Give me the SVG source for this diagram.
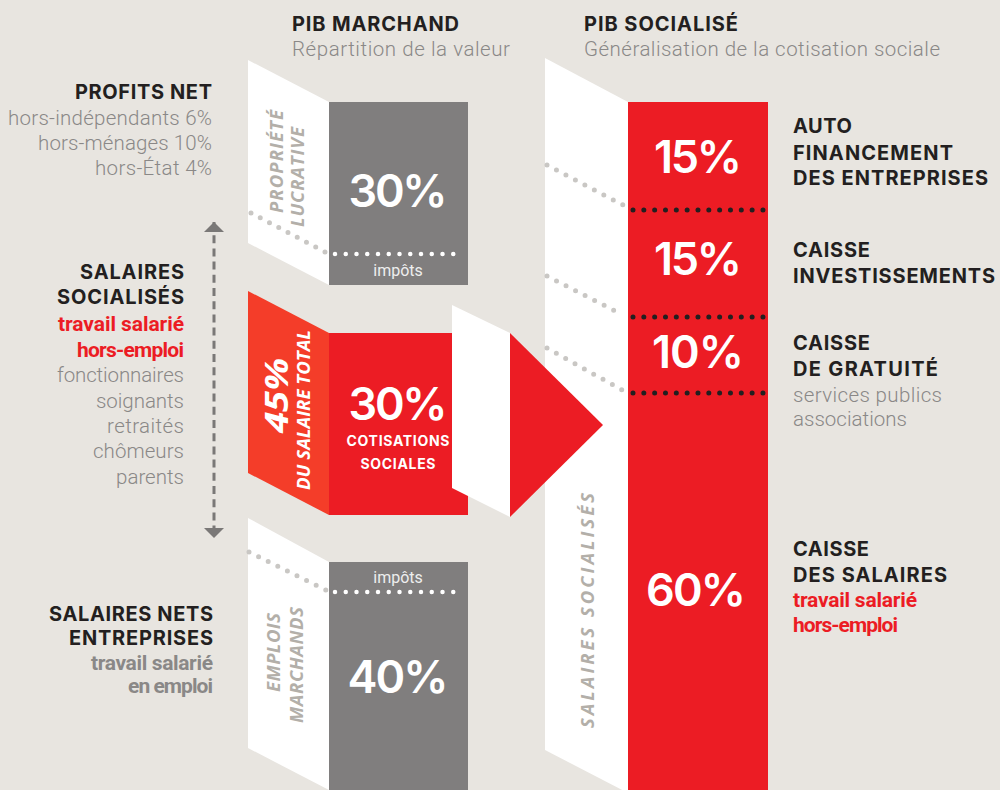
<svg xmlns="http://www.w3.org/2000/svg" width="1000" height="790" viewBox="0 0 1000 790">
<style>
.bg{fill:#e8e5e0}
.face{fill:#ffffff}
.gray{fill:#807e7e}
.red{fill:#ec1c24}
.orange{fill:#f43d29}
.h{font-family:Inter,"Liberation Sans",sans-serif;font-weight:700;font-size:20px;fill:#231f20}
.sub{font-family:Roboto,"Liberation Sans",sans-serif;font-weight:300;font-size:20.5px;fill:#8a8887}
.redc{font-family:Roboto,"Liberation Sans",sans-serif;font-weight:700;font-size:21px;fill:#ec1c24}
.grayc{font-family:Roboto,"Liberation Sans",sans-serif;font-weight:700;font-size:21px;fill:#8a8887}
.pct{font-family:Inter,"Liberation Sans",sans-serif;font-weight:600;font-size:45px;fill:#ffffff;text-anchor:middle}
.imp{font-family:Roboto,"Liberation Sans",sans-serif;font-weight:400;font-size:16px;fill:#eeeeee;text-anchor:middle}
.small{font-family:Inter,"Liberation Sans",sans-serif;font-weight:700;font-size:14px;fill:#ffffff;text-anchor:middle}
.rot{font-family:"Open Sans","Liberation Sans",sans-serif;font-style:italic;font-weight:700;font-size:18.5px;fill:#b3afa9}
.rotw{font-family:"Open Sans","Liberation Sans",sans-serif;font-style:italic;font-weight:700;fill:#ffffff}
.end{text-anchor:end}
.dg{stroke:#c9c7c4;stroke-width:5;stroke-linecap:round;fill:none}
.dw{stroke:#ffffff;stroke-width:4.5;stroke-linecap:round;fill:none;stroke-dasharray:0 10.75}
.dk{stroke:#231f20;stroke-width:5;stroke-linecap:round;fill:none;stroke-dasharray:0 10.83}
</style>
<defs>
<marker id="ah" viewBox="0 0 10 20" refX="10" refY="10" markerWidth="10" markerHeight="20" markerUnits="userSpaceOnUse" orient="auto-start-reverse">
<path d="M0,0 L10,10 L0,20 Z" fill="#7a7877"/>
</marker>
</defs>
<rect class="bg" x="0" y="0" width="1000" height="790"/>

<g id="header-marchand">
<text class="h" x="292" y="31" textLength="167" lengthAdjust="spacing">PIB MARCHAND</text>
<text class="sub" x="292" y="56" textLength="218" lengthAdjust="spacing">Répartition de la valeur</text>
</g>
<g id="header-socialise">
<text class="h" x="584" y="31" textLength="154" lengthAdjust="spacing">PIB SOCIALISÉ</text>
<text class="sub" x="584" y="56" textLength="356" lengthAdjust="spacing">Généralisation de la cotisation sociale</text>
</g>

<g id="label-profits">
<text class="h end" x="212" y="99" textLength="137" lengthAdjust="spacing">PROFITS NET</text>
<text class="sub end" x="212" y="125" textLength="204" lengthAdjust="spacing">hors-indépendants 6%</text>
<text class="sub end" x="212" y="150" textLength="174" lengthAdjust="spacing">hors-ménages 10%</text>
<text class="sub end" x="212" y="175" textLength="117" lengthAdjust="spacing">hors-État 4%</text>
</g>

<g id="label-salaires-socialises">
<text class="h end" x="184" y="279" textLength="104" lengthAdjust="spacing">SALAIRES</text>
<text class="h end" x="184" y="304" textLength="127" lengthAdjust="spacing">SOCIALISÉS</text>
<text class="redc end" x="184" y="331" textLength="126" lengthAdjust="spacing">travail salarié</text>
<text class="redc end" x="184" y="357" textLength="107" lengthAdjust="spacing">hors-emploi</text>
<text class="sub end" x="184" y="382" textLength="127" lengthAdjust="spacing">fonctionnaires</text>
<text class="sub end" x="184" y="408" textLength="88" lengthAdjust="spacing">soignants</text>
<text class="sub end" x="184" y="433" textLength="77" lengthAdjust="spacing">retraités</text>
<text class="sub end" x="184" y="458" textLength="91" lengthAdjust="spacing">chômeurs</text>
<text class="sub end" x="184" y="484" textLength="68" lengthAdjust="spacing">parents</text>
</g>

<g id="label-salaires-nets">
<text class="h end" x="213" y="621" textLength="164" lengthAdjust="spacing">SALAIRES NETS</text>
<text class="h end" x="213" y="645" textLength="144" lengthAdjust="spacing">ENTREPRISES</text>
<text class="grayc end" x="213" y="670" textLength="122" lengthAdjust="spacing">travail salarié</text>
<text class="grayc end" x="213" y="693" textLength="85" lengthAdjust="spacing">en emploi</text>
</g>

<g id="panel-profits">
<polygon class="face" points="248,60 329,102 329,285 248,243"/>
<rect class="gray" x="329" y="102" width="139" height="183"/>
<text class="pct" x="398" y="207" textLength="99" lengthAdjust="spacing">30%</text>
<text class="imp" x="398" y="276">impôts</text>
<text class="rot" transform="translate(283,213) rotate(-90)" textLength="103" lengthAdjust="spacing">PROPRIÉTÉ</text>
<text class="rot" transform="translate(304,227) rotate(-90)" textLength="100" lengthAdjust="spacing">LUCRATIVE</text>
</g>

<g id="panel-cotisations">
<polygon class="orange" points="248,291 329,333 329,515 248,473"/>
<rect class="red" x="329" y="333" width="139" height="182"/>
<text class="pct" x="398" y="420" textLength="99" lengthAdjust="spacing">30%</text>
<text class="small" x="398" y="446" textLength="103" lengthAdjust="spacing">COTISATIONS</text>
<text class="small" x="398" y="469" textLength="75" lengthAdjust="spacing">SOCIALES</text>
<text class="rotw" font-size="33" transform="translate(288,433) rotate(-90)" textLength="75" lengthAdjust="spacingAndGlyphs">45%</text>
<text class="rotw" font-size="17" transform="translate(310,490) rotate(-90)" textLength="160" lengthAdjust="spacingAndGlyphs">DU SALAIRE TOTAL</text>
</g>

<g id="panel-salaires-nets">
<polygon class="face" points="248,518 329,562 329,790 248,748"/>
<rect class="gray" x="329" y="562" width="139" height="228"/>
<text class="imp" x="398" y="583">impôts</text>
<text class="pct" x="398" y="693" textLength="101" lengthAdjust="spacing">40%</text>
<text class="rot" transform="translate(280,692) rotate(-90)" textLength="79" lengthAdjust="spacing">EMPLOIS</text>
<text class="rot" transform="translate(303,723) rotate(-90)" textLength="116" lengthAdjust="spacing">MARCHANDS</text>
</g>

<g id="column-socialise">
<polygon class="face" points="545,58 628,102 628,793 545,750"/>
<rect class="red" x="628" y="102" width="140" height="688"/>
<text class="pct" x="698" y="173" textLength="88" lengthAdjust="spacing">15%</text>
<text class="pct" x="698" y="275" textLength="88" lengthAdjust="spacing">15%</text>
<text class="pct" x="698" y="368" textLength="92" lengthAdjust="spacing">10%</text>
<text class="pct" x="696" y="606" textLength="100" lengthAdjust="spacing">60%</text>
<text class="rot" font-size="20" transform="translate(594,728) rotate(-90)" textLength="235" lengthAdjust="spacing">SALAIRES SOCIALISÉS</text>
</g>

<g id="arrow">
<polygon class="face" points="452,305 510,333 510,517 452,488"/>
<polygon class="red" points="510,333 603,425 510,517"/>
</g>

<g id="label-auto">
<text class="h" x="793" y="133" textLength="59" lengthAdjust="spacing">AUTO</text>
<text class="h" x="793" y="160" textLength="160" lengthAdjust="spacing">FINANCEMENT</text>
<text class="h" x="793" y="185" textLength="195" lengthAdjust="spacing">DES ENTREPRISES</text>
</g>
<g id="label-investissements">
<text class="h" x="793" y="257" textLength="77" lengthAdjust="spacing">CAISSE</text>
<text class="h" x="793" y="283" textLength="202" lengthAdjust="spacing">INVESTISSEMENTS</text>
</g>
<g id="label-gratuite">
<text class="h" x="793" y="350" textLength="77" lengthAdjust="spacing">CAISSE</text>
<text class="h" x="793" y="376" textLength="145" lengthAdjust="spacing">DE GRATUITÉ</text>
<text class="sub" x="793" y="402" textLength="149" lengthAdjust="spacing">services publics</text>
<text class="sub" x="793" y="426" textLength="114" lengthAdjust="spacing">associations</text>
</g>
<g id="label-salaires">
<text class="h" x="793" y="556" textLength="76" lengthAdjust="spacing">CAISSE</text>
<text class="h" x="793" y="582" textLength="154" lengthAdjust="spacing">DES SALAIRES</text>
<text class="redc" x="793" y="607" textLength="124" lengthAdjust="spacing">travail salarié</text>
<text class="redc" x="793" y="632" textLength="105" lengthAdjust="spacing">hors-emploi</text>
</g>

<g id="connectors">
<line class="dg" x1="251" y1="213" x2="325" y2="252" stroke-dasharray="0 10.45"/>
<line class="dw" x1="335" y1="254" x2="464" y2="254"/>
<line class="dg" x1="249" y1="552" x2="326" y2="590" stroke-dasharray="0 10.7"/>
<line class="dw" x1="335" y1="592" x2="464" y2="592"/>
<line class="dg" x1="547" y1="165" x2="623" y2="205" stroke-dasharray="0 10.7"/>
<line class="dg" x1="547" y1="276" x2="623" y2="315" stroke-dasharray="0 10.7"/>
<line class="dg" x1="547" y1="348" x2="622" y2="390" stroke-dasharray="0 10.7"/>
<line class="dk" x1="633" y1="210" x2="763" y2="210"/>
<line class="dk" x1="633" y1="317" x2="763" y2="317"/>
<line class="dk" x1="633" y1="393" x2="763" y2="393"/>
<line x1="214" y1="222" x2="214" y2="538" stroke="#7a7877" stroke-width="3" stroke-dasharray="8 5.2" marker-start="url(#ah)" marker-end="url(#ah)"/>
</g>
</svg>
